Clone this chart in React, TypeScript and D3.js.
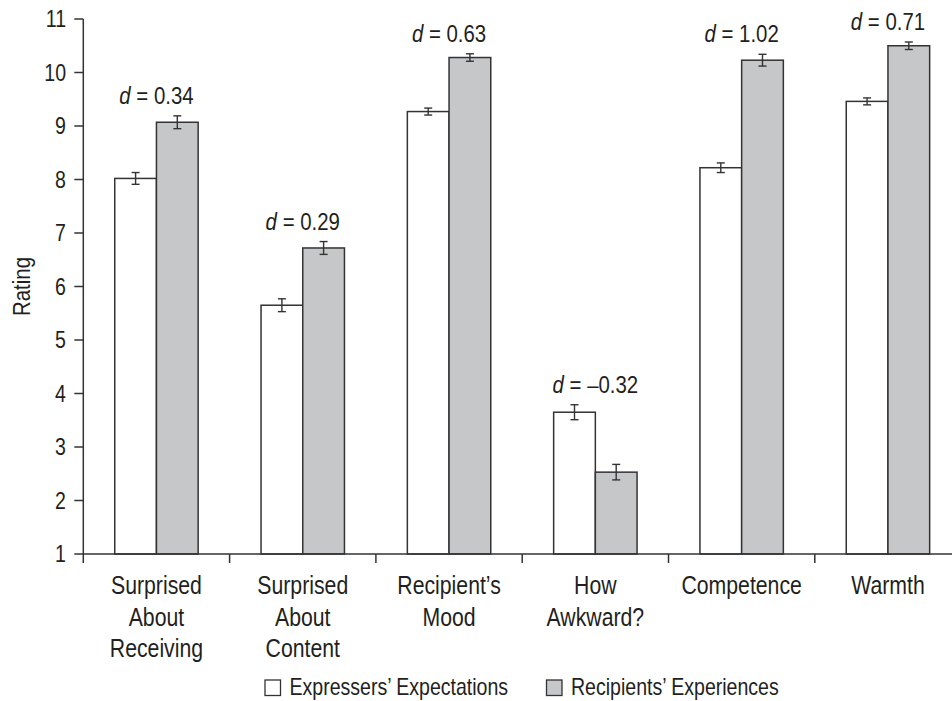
import React from "react";
import * as d3 from "d3";

const categories: string[][] = [
  ["Surprised", "About", "Receiving"],
  ["Surprised", "About", "Content"],
  ["Recipient\u2019s", "Mood"],
  ["How", "Awkward?"],
  ["Competence"],
  ["Warmth"],
];
const seriesNames = ["Expressers\u2019 Expectations", "Recipients\u2019 Experiences"];
const expectations = [8.02, 5.65, 9.27, 3.65, 8.22, 9.46];
const expectationsErr = [0.11, 0.12, 0.065, 0.14, 0.09, 0.065];
const experiences = [9.07, 6.72, 10.28, 2.53, 10.23, 10.5];
const experiencesErr = [0.12, 0.12, 0.07, 0.145, 0.11, 0.07];
const effectSizes = ["0.34", "0.29", "0.63", "\u20130.32", "1.02", "0.71"];
const yTicks = [1, 2, 3, 4, 5, 6, 7, 8, 9, 10, 11];

const FONT = "'Liberation Sans', Arial, Helvetica, sans-serif";
const TEXT = "#231f20";
const LINE = "#333333";
const GRAY = "#c6c7c8";
const SX = 0.85;

function CText(props: {
  x: number;
  y: number;
  size: number;
  anchor?: "start" | "middle" | "end";
  rotate?: number;
  dy?: string;
  children: React.ReactNode;
}) {
  const { x, y, size, anchor = "start", rotate = 0, dy, children } = props;
  return (
    <g transform={`translate(${x},${y}) rotate(${rotate}) scale(${SX},1)`}>
      <text x={0} y={0} dy={dy} textAnchor={anchor} fontSize={size} fill={TEXT}>
        {children}
      </text>
    </g>
  );
}

export default function App() {
  const width = 952;
  const height = 701;
  const left = 83.3;
  const step = 146.3;
  const x = d3
    .scaleBand<number>()
    .domain(categories.map((_, i) => i))
    .range([left, left + step * categories.length])
    .paddingInner(0)
    .paddingOuter(0);
  const xSub = d3
    .scaleBand<number>()
    .domain([0, 1])
    .range([0, x.bandwidth()])
    .paddingInner(0)
    .paddingOuter(0.754);
  const y = d3.scaleLinear().domain([1, 11]).range([554, 19]);
  const series = [
    { vals: expectations, errs: expectationsErr, fill: "#ffffff" },
    { vals: experiences, errs: experiencesErr, fill: GRAY },
  ];

  return (
    <svg
      width={width}
      height={height}
      style={{ position: "absolute", left: 0, top: 0, display: "block" }}
      fontFamily={FONT}
    >
      <rect x={0} y={0} width={width} height={height} fill="#ffffff" />
      {categories.map((_, i) => {
        const topVal = Math.max(
          expectations[i] + expectationsErr[i],
          experiences[i] + experiencesErr[i]
        );
        const cx = (x(i) as number) + x.bandwidth() / 2;
        return (
          <g key={i}>
            {series.map((s, j) => {
              const bx = (x(i) as number) + (xSub(j) as number);
              const top = y(s.vals[i]);
              return (
                <rect
                  key={j}
                  x={bx}
                  y={top}
                  width={xSub.bandwidth()}
                  height={y(1) - top}
                  fill={s.fill}
                  stroke={LINE}
                  strokeWidth={1.5}
                />
              );
            })}
            {series.map((s, j) => {
              const ex = (x(i) as number) + (xSub(j) as number) + xSub.bandwidth() / 2;
              const hi = y(s.vals[i] + s.errs[i]);
              const lo = y(s.vals[i] - s.errs[i]);
              return (
                <g key={"e" + j} stroke={LINE} strokeWidth={1.4}>
                  <line x1={ex} x2={ex} y1={hi} y2={lo} />
                  <line x1={ex - 4} x2={ex + 4} y1={hi} y2={hi} />
                  <line x1={ex - 4} x2={ex + 4} y1={lo} y2={lo} />
                </g>
              );
            })}
            <CText x={cx} y={y(topVal) - 12} size={24} anchor="middle">
              <tspan fontStyle="italic">d</tspan>
              <tspan> = {effectSizes[i]}</tspan>
            </CText>
          </g>
        );
      })}
      {/* axes */}
      <line x1={left} x2={width} y1={y(1)} y2={y(1)} stroke={LINE} strokeWidth={1.5} />
      <line x1={left} x2={left} y1={y(11)} y2={y(1) + 9} stroke={LINE} strokeWidth={1.5} />
      {categories.map((_, i) =>
        i === 0 ? null : (
          <line
            key={"bt" + i}
            x1={x(i) as number}
            x2={x(i) as number}
            y1={y(1)}
            y2={y(1) + 9}
            stroke={LINE}
            strokeWidth={1.5}
          />
        )
      )}
      {yTicks.map((t) => (
        <g key={"yt" + t}>
          <line x1={left - 9} x2={left} y1={y(t)} y2={y(t)} stroke={LINE} strokeWidth={1.5} />
          <CText x={66} y={y(t)} size={23} anchor="end" dy="0.36em">
            {t}
          </CText>
        </g>
      ))}
      <CText x={30} y={(y(1) + y(11)) / 2} size={24} anchor="middle" rotate={-90}>
        Rating
      </CText>
      {/* category labels */}
      {categories.map((lines, i) => {
        const cx = (x(i) as number) + x.bandwidth() / 2;
        return (
          <g key={"cl" + i}>
            {lines.map((l, k) => (
              <CText key={k} x={cx} y={594 + k * 31.6} size={25} anchor="middle">
                {l}
              </CText>
            ))}
          </g>
        );
      })}
      {/* legend */}
      {seriesNames.map((name, j) => {
        const lx = j === 0 ? 265 : 546.5;
        return (
          <g key={"lg" + j}>
            <rect
              x={lx}
              y={680}
              width={15.5}
              height={15.5}
              fill={series[j].fill}
              stroke={LINE}
              strokeWidth={1.3}
            />
            <CText x={lx + 24.5} y={695} size={23}>
              {name}
            </CText>
          </g>
        );
      })}
    </svg>
  );
}
